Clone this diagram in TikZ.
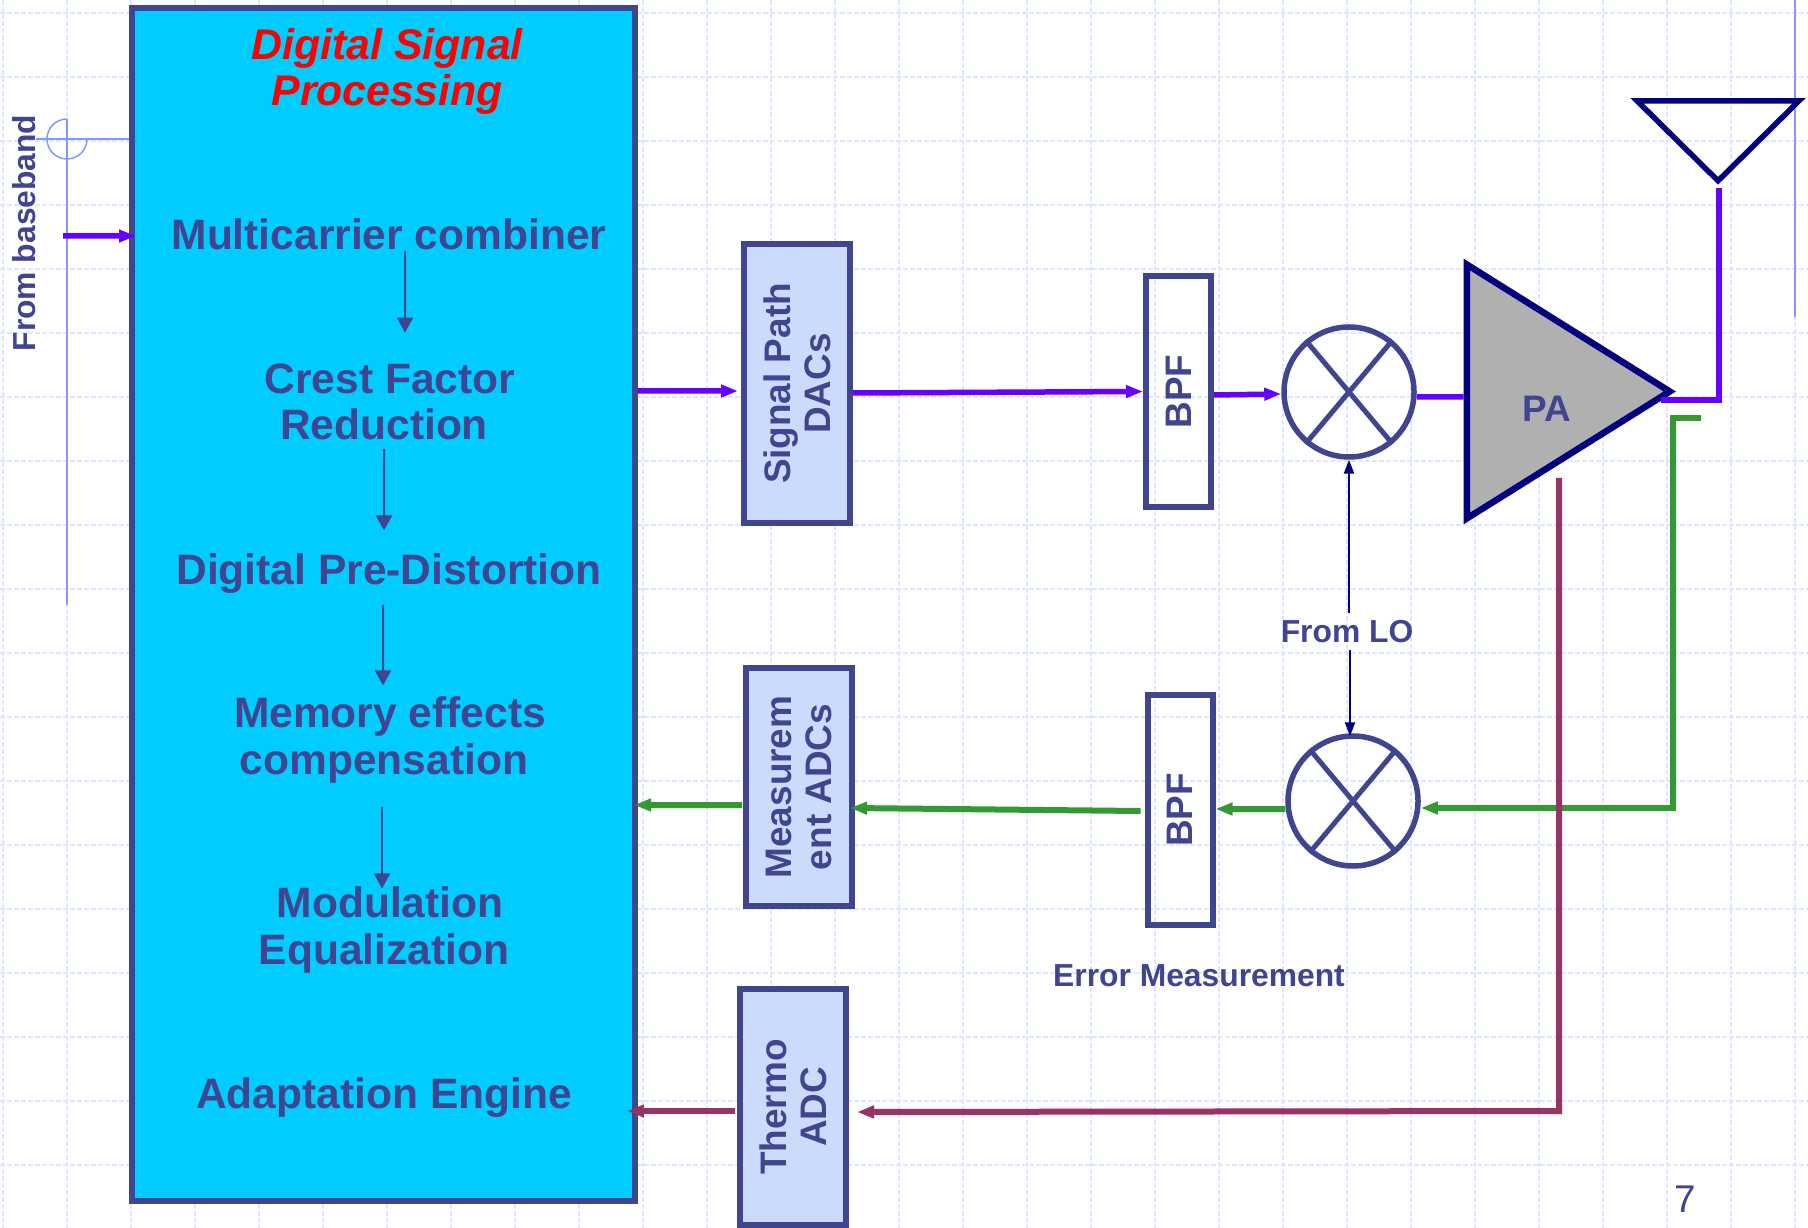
\documentclass[tikz,border=0pt]{standalone}
\usepackage{fontspec}
\setmainfont{Liberation Sans}
\usepackage{xcolor}
\usetikzlibrary{arrows.meta,shapes.geometric,calc}
\definecolor{slateink}{HTML}{404590}
\definecolor{dspcyan}{HTML}{00CCFF}
\definecolor{dacfill}{HTML}{CCDAFB}
\definecolor{sigpurple}{HTML}{6600FF}
\definecolor{errgreen}{HTML}{339933}
\definecolor{tempplum}{HTML}{993366}
\definecolor{deepnavy}{HTML}{000080}
\definecolor{paperline}{HTML}{DFE6FF}
\definecolor{deco}{HTML}{8099FF}

\begin{document}
\begin{tikzpicture}[
  stage/.style={anchor=base, align=center, inner sep=0pt, text=slateink,
                font=\fontsize{12.1}{13.1}\selectfont\bfseries},
  note/.style={anchor=base, inner sep=0pt, text=slateink,
               font=\fontsize{9.05}{10}\selectfont\bfseries},
  dacbox/.style={draw=slateink, line width=0.06cm, fill=dacfill, rotate=90, align=center,
                 inner sep=0pt, text=slateink, font=\fontsize{10.5}{11.4}\selectfont\bfseries},
  bpfbox/.style={dacbox, fill=none, minimum width=2.31cm, minimum height=0.65cm},
  mixer/.style={draw=slateink, line width=0.055cm, circle, minimum size=1.30cm, inner sep=0pt},
  stepflow/.style={slateink, line width=0.02cm, -{Triangle[length=1.5mm,width=1.6mm]}},
  loflow/.style={deepnavy, line width=0.025cm, -{Triangle[length=1.4mm,width=1mm]}},
  sigflow/.style={sigpurple, line width=0.055cm, -{Triangle[length=1.7mm,width=1.2mm]}},
  sigwire/.style={sigpurple, line width=0.055cm},
  errflow/.style={errgreen, line width=0.06cm, -{Triangle[length=1.7mm,width=1.2mm]}},
  tempflow/.style={tempplum, line width=0.06cm, -{Triangle[length=1.7mm,width=1.2mm]}}
]
  \useasboundingbox (0,0) rectangle (18.08,-12.28);
  \fill[white] (0,0) rectangle (18.08,-12.28);

  % slide background
  \foreach \gx in {0,...,28}
    \draw[paperline, line width=0.012cm, dash pattern=on 0.05cm off 0.02cm] (0.03+0.64*\gx,0) -- (0.03+0.64*\gx,-12.28);
  \foreach \gy in {0,...,19}
    \draw[paperline, line width=0.012cm, dash pattern=on 0.05cm off 0.02cm] (0,-0.13-0.64*\gy) -- (18.08,-0.13-0.64*\gy);
  \draw[deco, line width=0.015cm] (0.36,-1.39) -- (1.29,-1.39);
  \draw[deco, line width=0.015cm] (0.67,-1.19) -- (0.67,-6.05);
  \draw[deco, line width=0.015cm] (0.67,-1.19) arc[start angle=90, end angle=360, radius=0.20];
  \draw[deco, line width=0.015cm] (17.95,0) -- (17.95,-3.17);

  % main block
  \node[draw=slateink, line width=0.06cm, fill=dspcyan, minimum width=5.03cm, minimum height=11.93cm] (dsp) at (3.835,-6.045) {};
  \node[stage, text=red, font=\fontsize{12.2}{13.3}\selectfont\bfseries\itshape] (title) at (3.87,-1.06) {Digital Signal\\Processing};
  \node[stage] (multi) at (3.89,-2.50) {Multicarrier combiner};
  \node[stage] (crest) at (3.90,-4.40) {Crest Factor\\Reduction\hspace*{0.12cm}};
  \node[stage] (dpd) at (3.89,-5.85) {Digital Pre-Distortion};
  \node[stage] (memory) at (3.90,-7.74) {Memory effects\\compensation\hspace*{0.12cm}};
  \node[stage] (modeq) at (3.90,-9.64) {Modulation\\Equalization\hspace*{0.12cm}};
  \node[stage] (adapt) at (3.84,-11.08) {Adaptation Engine};

  \draw[stepflow] ([xshift=0.16cm]multi.south) -- ([shift={(0.15,0.31)}]crest.north);
  \draw[stepflow] ([xshift=-0.06cm,yshift=-0.08cm]crest.south) -- ([shift={(-0.05,0.23)}]dpd.north);
  \draw[stepflow] ([xshift=-0.06cm,yshift=-0.10cm]dpd.south) -- ([shift={(-0.07,0.11)}]memory.north);
  \draw[stepflow] ([xshift=-0.08cm,yshift=-0.23cm]memory.south) -- ([shift={(-0.08,-0.02)}]modeq.north);

  % blocks on the right
  \node[dacbox, minimum width=2.79cm, minimum height=1.06cm] (sigdac) at (7.97,-3.835) {Signal Path\\DACs};
  \node[dacbox, minimum width=2.38cm, minimum height=1.06cm] (measdac) at (7.99,-7.87) {Measurem\\ent ADCs};
  \node[dacbox, minimum width=2.36cm, minimum height=1.06cm] (thermo) at (7.93,-11.07) {Thermo\\ADC};
  \node[bpfbox] (bpfa) at (11.785,-3.915) {BPF};
  \node[bpfbox, minimum width=2.30cm] (bpfb) at (11.80,-8.10) {BPF};
  \node[mixer] (mixa) at (13.49,-3.92) {};
  \node[mixer] (mixb) at (13.53,-8.01) {};
  \draw[slateink, line width=0.05cm] (mixa.130) -- (mixa.-50) (mixa.50) -- (mixa.-130);
  \draw[slateink, line width=0.05cm] (mixb.130) -- (mixb.-50) (mixb.50) -- (mixb.-130);
  \node[draw=deepnavy, line width=0.065cm, fill=black!31, isosceles triangle, isosceles triangle stretches,
        minimum width=2.54cm, minimum height=2.03cm, inner sep=0pt, anchor=lower side] (pa) at (14.635,-3.915) {};
  \node[anchor=base, inner sep=0pt, text=slateink, font=\fontsize{10.5}{11}\selectfont\bfseries] (palabel) at (15.47,-4.22) {PA};
  \node[draw=deepnavy, line width=0.055cm, isosceles triangle, isosceles triangle stretches, shape border rotate=-90,
        minimum width=1.62cm, minimum height=0.80cm, inner sep=0pt, anchor=apex] (ant) at (17.18,-1.88) {};

  \node[note] (fromlo) at (13.47,-6.43) {From LO};
  \node[note] (errlabel) at (11.99,-9.86) {Error Measurement};
  \node[note, rotate=90] (baseband) at (0.35,-2.33) {From baseband};
  \node[anchor=center, inner sep=0pt, text=slateink, font=\fontsize{11}{12}\selectfont] (pagenum) at (16.85,-11.99) {7};

  \coordinate (bbstart) at (0.63,-2.36);
  \coordinate (errtap) at (17.01,-4.18);
  \coordinate (errcorner) at (16.73,-8.08);
  \coordinate (temptap) at (15.59,-4.78);
  \coordinate (tempcorner) at (15.59,-11.11);

  \draw[sigflow] (bbstart) -- ([shift={(0.07,3.685)}]dsp.west);
  \draw[sigflow] ([yshift=2.135cm]dsp.east) -- ([shift={(-0.03,-0.075)}]sigdac.north);
  \draw[sigflow] ([yshift=-0.095cm]sigdac.south) -- (bpfa.north);
  \draw[sigflow] ([yshift=-0.035cm]bpfa.south) -- ([yshift=-0.02cm]mixa.west);
  \draw[sigwire] ([yshift=-0.05cm]mixa.east) -- ([yshift=-0.055cm]pa.lower side);
  \draw[sigwire] ([shift={(-0.17,-0.085)}]pa.apex) -| ([xshift=0.01cm]ant.apex);

  \draw[errflow] (errtap) -| (errcorner) -- ([yshift=-0.07cm]mixb.east);
  \draw[errflow] ([yshift=-0.08cm]mixb.west) -- ([yshift=0.01cm]bpfb.south);
  \draw[errflow] ([shift={(-0.04,-0.01)}]bpfb.north) -- ([shift={(-0.05,-0.21)}]measdac.south);
  \draw[errflow] ([shift={(-0.01,-0.18)}]measdac.north) -- ([shift={(-0.04,-2.005)}]dsp.east);

  \draw[tempflow] (temptap) -- (tempcorner) -- ([shift={(0.08,-0.05)}]thermo.south);
  \draw[tempflow] ([shift={(-0.02,-0.04)}]thermo.north) -- ([shift={(-0.11,-5.065)}]dsp.east);

  \draw[loflow] ([shift={(0.02,0.07)}]fromlo.north) -- (mixa.south);
  \draw[loflow] ([shift={(0.03,-0.06)}]fromlo.south) -- ([shift={(-0.03,-0.03)}]mixb.north);
\end{tikzpicture}
\end{document}
